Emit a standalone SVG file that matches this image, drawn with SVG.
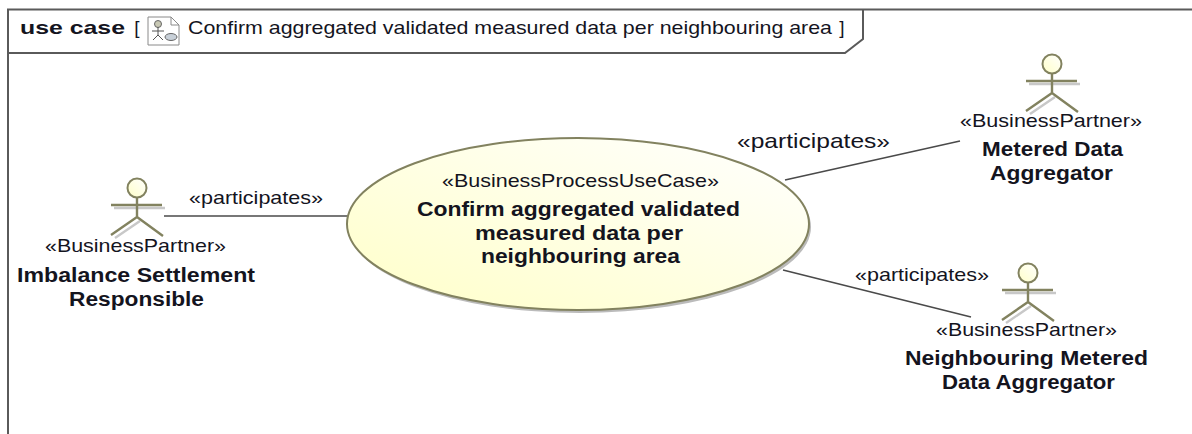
<svg xmlns="http://www.w3.org/2000/svg" width="1192" height="434" viewBox="0 0 1192 434">
<defs>
<style>
text{font-family:"Liberation Sans",Arial,sans-serif;fill:#14141e;text-anchor:middle}
.s{font-size:19px}
.b{font-size:19.5px;font-weight:bold}
.p{font-size:18.5px}
.frame{fill:none;stroke:#5a5a5a;stroke-width:2}
.conn{fill:none;stroke:#4a4a4a;stroke-width:1.6}
.limb{fill:none;stroke:#82825f;stroke-width:2.4}
.shadow{fill:none;stroke:#c8c8c8;stroke-width:2.4}
.head{fill:url(#g);stroke:#82825f;stroke-width:2}
</style>
<linearGradient id="g" x1="0" y1="1" x2="1" y2="0"><stop offset="0" stop-color="#ffffc8"/><stop offset="1" stop-color="#ffffff"/></linearGradient>
<linearGradient id="gu" x1="0" y1="1" x2="1" y2="0"><stop offset="0" stop-color="#ffffc8"/><stop offset="1" stop-color="#ffffff"/></linearGradient>
<g id="actor">
<path class="shadow" d="M-23 20H28M3 33L-22 50"/>
<circle class="head" cx="0" cy="0" r="9.5"/>
<path class="limb" d="M0 9.5V29M-26 17H25M0 29L-26 47M0 29L26 48"/>
</g>
</defs>
<rect width="1192" height="434" fill="#fff"/>
<g id="frame">
<path class="frame" d="M8 434V9.5H1192"/>
<path class="frame" d="M8 53H845L863 39V9.5"/>
<text x="72.5" y="34" textLength="105" lengthAdjust="spacingAndGlyphs" style="font-size:19px;font-weight:bold">use case</text>
<text x="137" y="34" style="font-size:19px">[</text>
<g fill="none" stroke="#8a8a8a" stroke-width="1"><path d="M148 17H171L179 25V45H148Z"/><path d="M171 17V25H179"/></g>
<circle cx="158" cy="24" r="3.5" fill="#c8c8b4" stroke="#666"/>
<path d="M158 27V35M152 31H164M158 35L153 40M158 35L163 40" fill="none" stroke="#555" stroke-width="1"/>
<ellipse cx="171" cy="37" rx="6" ry="3.5" fill="#c8d0d8" stroke="#666"/>
<text x="510" y="34" textLength="644" lengthAdjust="spacingAndGlyphs" style="font-size:18.5px">Confirm aggregated validated measured data per neighbouring area</text>
<text x="842" y="34" style="font-size:19px">]</text>
</g>
<g id="connectors">
<path class="conn" d="M164 216H350"/>
<path class="conn" d="M785 180L960 141"/>
<path class="conn" d="M783 270L971 317"/>
<text class="p" x="256" y="204" textLength="134" lengthAdjust="spacingAndGlyphs">«participates»</text>
<text x="813.5" y="148" textLength="153" lengthAdjust="spacingAndGlyphs" style="font-size:21px">«participates»</text>
<text class="p" x="922" y="281" textLength="134" lengthAdjust="spacingAndGlyphs">«participates»</text>
</g>
<g id="usecase">
<ellipse cx="580" cy="227" rx="231" ry="86" fill="#bbb"/>
<ellipse cx="578" cy="224" rx="231" ry="86" fill="url(#gu)" stroke="#82825f" stroke-width="2"/>
<text class="s" x="580.5" y="187" textLength="277" lengthAdjust="spacingAndGlyphs">«BusinessProcessUseCase»</text>
<text class="b" x="578.5" y="216" textLength="323" lengthAdjust="spacingAndGlyphs">Confirm aggregated validated</text>
<text class="b" x="579" y="240" textLength="208" lengthAdjust="spacingAndGlyphs">measured data per</text>
<text class="b" x="580.5" y="263" textLength="199" lengthAdjust="spacingAndGlyphs">neighbouring area</text>
</g>
<g id="actor-imbalance">
<use href="#actor" x="137" y="188"/>
<text class="s" x="135.5" y="252" textLength="181" lengthAdjust="spacingAndGlyphs">«BusinessPartner»</text>
<text class="b" x="136" y="282" textLength="238" lengthAdjust="spacingAndGlyphs">Imbalance Settlement</text>
<text class="b" x="136.5" y="306" textLength="135" lengthAdjust="spacingAndGlyphs">Responsible</text>
</g>
<g id="actor-metered">
<use href="#actor" x="1052" y="64"/>
<text class="s" x="1051" y="127" textLength="182" lengthAdjust="spacingAndGlyphs">«BusinessPartner»</text>
<text class="b" x="1052.5" y="156" textLength="141" lengthAdjust="spacingAndGlyphs">Metered Data</text>
<text class="b" x="1051.5" y="180" textLength="123" lengthAdjust="spacingAndGlyphs">Aggregator</text>
</g>
<g id="actor-neighbouring">
<use href="#actor" x="1028" y="273"/>
<text class="s" x="1026.5" y="336" textLength="181" lengthAdjust="spacingAndGlyphs">«BusinessPartner»</text>
<text class="b" x="1026.5" y="365" textLength="243" lengthAdjust="spacingAndGlyphs">Neighbouring Metered</text>
<text class="b" x="1028.5" y="389" textLength="173" lengthAdjust="spacingAndGlyphs">Data Aggregator</text>
</g>
</svg>
